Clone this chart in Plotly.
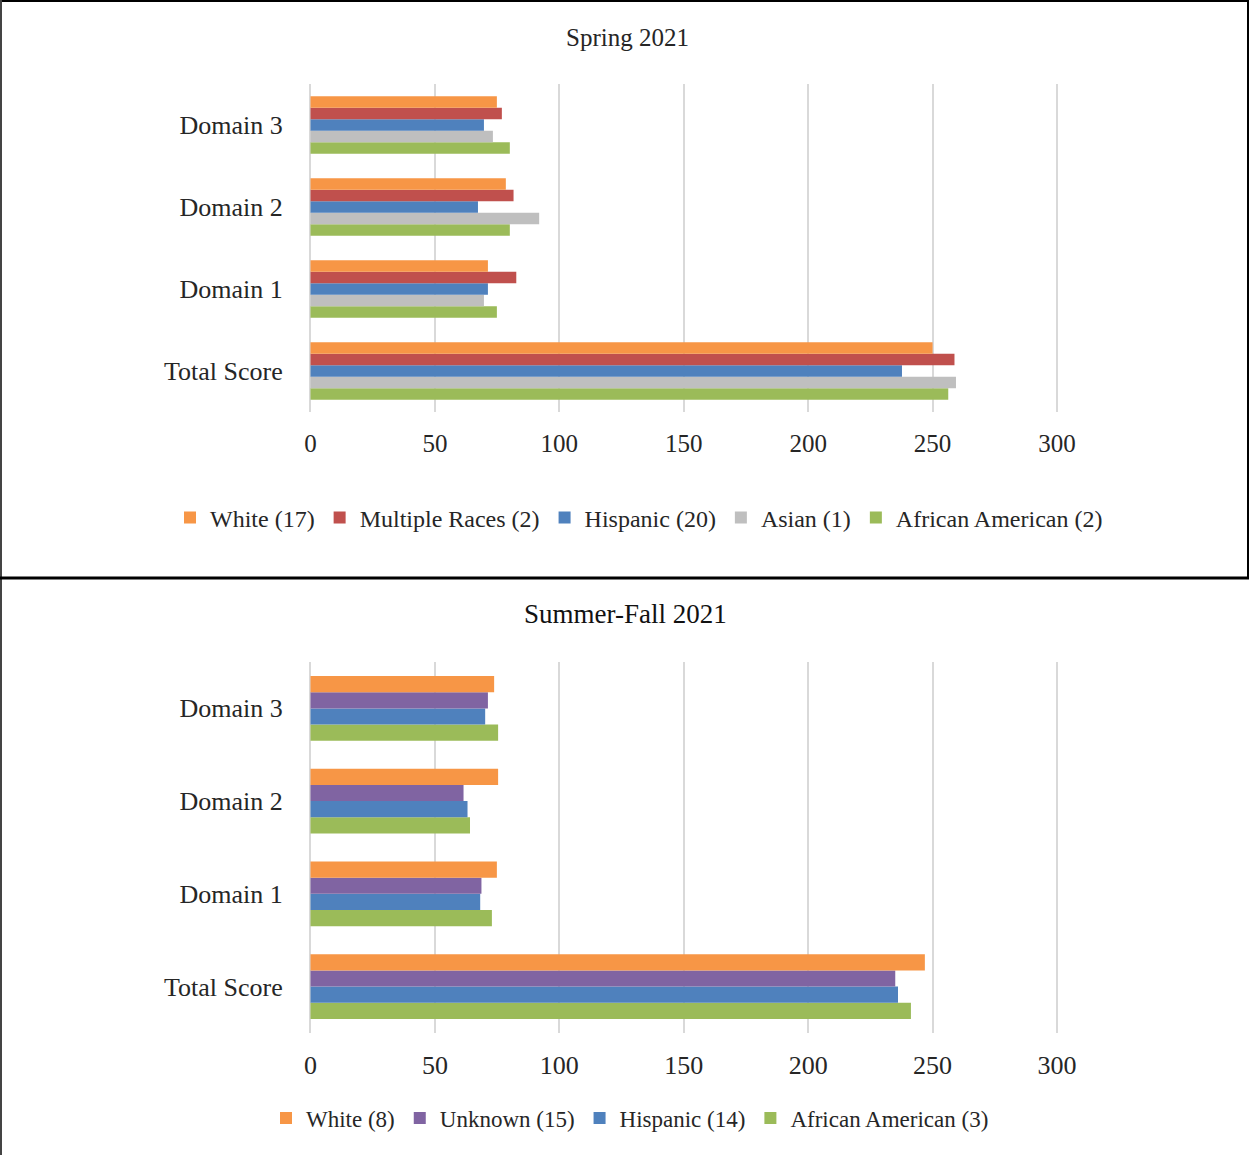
import plotly.graph_objects as go

W, H = 1249, 1155

categories = ["Total Score", "Domain 1", "Domain 2", "Domain 3"]

# Spring 2021
spring_series = ["African American (2)", "Asian (1)", "Hispanic (20)", "Multiple Races (2)", "White (17)"]
spring_aa = [256.3, 74.9, 80.1, 80.1]
spring_asian = [259.4, 69.7, 91.9, 73.3]
spring_hisp = [237.7, 71.3, 67.3, 69.7]
spring_multi = [258.8, 82.7, 81.6, 76.9]
spring_white = [250.0, 71.3, 78.5, 74.9]

# Summer-Fall 2021
sf_series = ["African American (3)", "Hispanic (14)", "Unknown (15)", "White (8)"]
sf_aa = [241.3, 72.9, 64.1, 75.4]
sf_hisp = [236.1, 68.2, 63.1, 70.2]
sf_unknown = [235.0, 68.7, 61.5, 71.3]
sf_white = [246.9, 74.9, 75.4, 73.8]

x_ticks = [0, 50, 100, 150, 200, 250, 300]

ORANGE = "#F79646"
RED = "#C0504D"
BLUE = "#4F81BD"
GRAY = "#BFBFBF"
GREEN = "#9BBB59"
PURPLE = "#8064A2"

FONT = "Liberation Serif, Times New Roman, serif"
TXT = "#262626"

fig = go.Figure()

spring_vals = [spring_aa, spring_asian, spring_hisp, spring_multi, spring_white]
spring_cols = [GREEN, GRAY, BLUE, RED, ORANGE]
for name, vals, col in zip(spring_series, spring_vals, spring_cols):
    fig.add_trace(go.Bar(y=categories, x=vals, name=name, orientation="h",
                         marker=dict(color=col, line=dict(width=0)),
                         xaxis="x", yaxis="y", legend="legend"))

sf_vals = [sf_aa, sf_hisp, sf_unknown, sf_white]
sf_cols = [GREEN, BLUE, PURPLE, ORANGE]
for name, vals, col in zip(sf_series, sf_vals, sf_cols):
    fig.add_trace(go.Bar(y=categories, x=vals, name=name, orientation="h",
                         marker=dict(color=col, line=dict(width=0)),
                         xaxis="x2", yaxis="y2", legend="legend2"))

def py(pix):
    return 1 - pix / H

# pixel mapping: 0 -> 310.5, 300 -> 1057
scale = (1057 - 310.5) / 300.0
pad = 0.6
xrange_ = [-pad, 300 + pad]
xdom = [(310.5 - pad * scale) / W, (1057 + pad * scale) / W]

def xax(size):
    return dict(range=xrange_, tickvals=x_ticks, showgrid=True, gridcolor="#D9D9D9", gridwidth=2,
                zeroline=False, showline=False, ticks="outside", ticklen=9,
                tickcolor="rgba(0,0,0,0)", tickfont=dict(family=FONT, size=size, color=TXT),
                domain=xdom, fixedrange=True, automargin=False)

yax = dict(type="category", categoryorder="array", categoryarray=categories,
           showgrid=False, zeroline=False, showline=False, ticks="outside", ticklen=20,
           tickcolor="rgba(0,0,0,0)", tickfont=dict(family=FONT, size=26, color=TXT),
           fixedrange=True, automargin=False)

fig.update_layout(
    width=W, height=H, template="none",
    margin=dict(l=0, r=0, t=0, b=0),
    paper_bgcolor="white", plot_bgcolor="white",
    barmode="group", bargap=0.3, bargroupgap=0,
    font=dict(family=FONT, color=TXT),
    xaxis=dict(xax(25), anchor="y"),
    yaxis=dict(yax, domain=[py(412), py(84)], anchor="x"),
    xaxis2=dict(xax(26), anchor="y2"),
    yaxis2=dict(yax, domain=[py(1033), py(662)], anchor="x2"),
    legend=dict(orientation="h", x=639 / W, y=py(518), xanchor="center", yanchor="middle",
                traceorder="reversed", font=dict(family=FONT, size=24, color=TXT),
                bgcolor="rgba(0,0,0,0)", itemclick=False, itemdoubleclick=False),
    legend2=dict(orientation="h", x=630 / W, y=py(1118), xanchor="center", yanchor="middle",
                 traceorder="reversed", font=dict(family=FONT, size=23, color=TXT),
                 bgcolor="rgba(0,0,0,0)", itemclick=False, itemdoubleclick=False),
    annotations=[
        dict(text="Spring 2021", x=627 / W, y=py(37), xref="paper", yref="paper",
             showarrow=False, xanchor="center", yanchor="middle",
             font=dict(family=FONT, size=25, color=TXT)),
        dict(text="Summer-Fall 2021", x=625 / W, y=py(614), xref="paper", yref="paper",
             showarrow=False, xanchor="center", yanchor="middle",
             font=dict(family=FONT, size=27, color="#111111")),
    ],
    shapes=[
        dict(type="line", xref="paper", yref="paper", x0=0, x1=1, y0=py(1), y1=py(1),
             line=dict(color="black", width=2)),
        dict(type="line", xref="paper", yref="paper", x0=1 / W, x1=1 / W, y0=0, y1=1,
             line=dict(color="#444444", width=2)),
        dict(type="line", xref="paper", yref="paper", x0=1 - 1 / W, x1=1 - 1 / W, y0=py(578), y1=1,
             line=dict(color="black", width=2)),
        dict(type="line", xref="paper", yref="paper", x0=0, x1=1, y0=py(578), y1=py(578),
             line=dict(color="black", width=3)),
    ],
)

fig.write_html("out.html")
